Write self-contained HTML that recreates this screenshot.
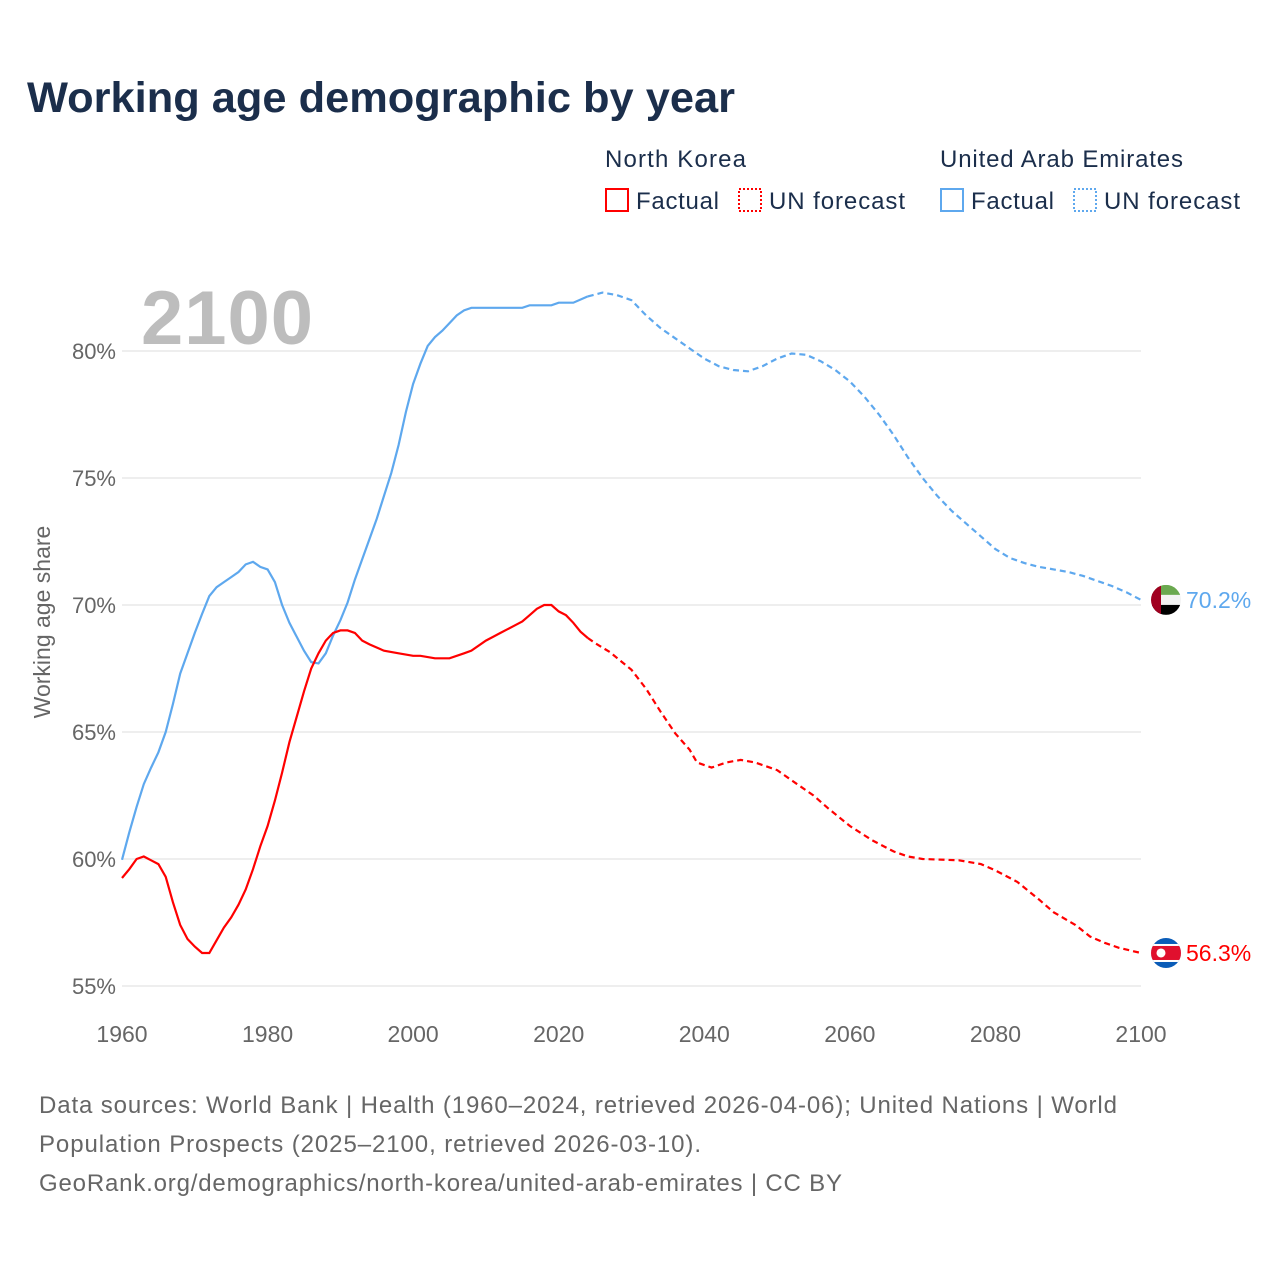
<!DOCTYPE html>
<html><head><meta charset="utf-8">
<style>
body{margin:0;background:#fff;}
svg text{font-family:"Liberation Sans",sans-serif;}
</style></head>
<body>
<svg id="chart" width="1280" height="1280" viewBox="0 0 1280 1280" xmlns="http://www.w3.org/2000/svg">
<rect width="1280" height="1280" fill="#fff"/>
<text x="27" y="112" font-size="43" font-weight="bold" fill="#1b2e4b" textLength="708" lengthAdjust="spacingAndGlyphs">Working age demographic by year</text>
<g>
<text x="605" y="167" font-size="24" fill="#1b2e4b" textLength="141">North Korea</text>
<rect x="606" y="189" width="22" height="22" fill="none" stroke="#f00" stroke-width="2"/>
<text x="636" y="209" font-size="24" fill="#1b2e4b" textLength="83">Factual</text>
<rect x="739" y="189" width="22" height="22" fill="none" stroke="#f00" stroke-width="2" stroke-dasharray="2 2"/>
<text x="769" y="209" font-size="24" fill="#1b2e4b" textLength="136">UN forecast</text>
<text x="940" y="167" font-size="24" fill="#1b2e4b" textLength="243">United Arab Emirates</text>
<rect x="941" y="189" width="22" height="22" fill="none" stroke="#5ea8ee" stroke-width="2"/>
<text x="971" y="209" font-size="24" fill="#1b2e4b" textLength="83">Factual</text>
<rect x="1074" y="189" width="22" height="22" fill="none" stroke="#5ea8ee" stroke-width="2" stroke-dasharray="2 2"/>
<text x="1104" y="209" font-size="24" fill="#1b2e4b" textLength="136">UN forecast</text>
</g>
<text x="141" y="344" font-size="76" font-weight="bold" fill="#bdbdbd" textLength="172">2100</text>
<g id="grid"></g>
<g id="yticks"></g>
<g id="xticks"></g>
<text transform="translate(50,622) rotate(-90)" text-anchor="middle" font-size="23" fill="#666">Working age share</text>
<g id="series"></g>
<g font-size="24" fill="#666">
<text x="39" y="1113" textLength="1078">Data sources: World Bank | Health (1960–2024, retrieved 2026-04-06); United Nations | World</text>
<text x="39" y="1152" textLength="662">Population Prospects (2025–2100, retrieved 2026-03-10).</text>
<text x="39" y="1191" textLength="803">GeoRank.org/demographics/north-korea/united-arab-emirates | CC BY</text>
</g>
</svg>
<script>
const yTicks=[55,60,65,70,75,80];
const xTicks=[1960,1980,2000,2020,2040,2060,2080,2100];
const uaeFactYears=[1960,1961,1962,1963,1964,1965,1966,1967,1968,1969,1970,1971,1972,1973,1974,1975,1976,1977,1978,1979,1980,1981,1982,1983,1984,1985,1986,1987,1988,1989,1990,1991,1992,1993,1994,1995,1996,1997,1998,1999,2000,2001,2002,2003,2004,2005,2006,2007,2008,2009,2012,2015,2016,2017,2019,2020,2022,2024];
const uaeFactValues=[59.97,61.05,62.05,62.95,63.6,64.2,65.0,66.1,67.3,68.1,68.9,69.65,70.35,70.7,70.9,71.1,71.3,71.6,71.7,71.5,71.4,70.9,70.0,69.3,68.75,68.2,67.75,67.7,68.1,68.8,69.4,70.1,71.0,71.8,72.6,73.4,74.3,75.2,76.3,77.6,78.7,79.5,80.2,80.55,80.8,81.1,81.4,81.6,81.7,81.7,81.7,81.7,81.8,81.8,81.8,81.9,81.9,82.15];
const uaeFcYears=[2024,2026,2028,2030,2032,2034,2036,2038,2040,2042,2044,2046,2048,2050,2052,2054,2056,2058,2060,2062,2064,2066,2068,2070,2072,2074,2076,2078,2080,2082,2084,2086,2088,2090,2092,2094,2096,2098,2100];
const uaeFcValues=[82.15,82.3,82.2,82.0,81.4,80.9,80.5,80.1,79.7,79.4,79.25,79.2,79.4,79.7,79.9,79.85,79.6,79.25,78.8,78.2,77.5,76.7,75.8,75.0,74.3,73.7,73.2,72.7,72.2,71.85,71.65,71.5,71.4,71.3,71.15,70.95,70.75,70.5,70.2];
const nkFactYears=[1960,1961,1962,1963,1964,1965,1966,1967,1968,1969,1970,1971,1972,1973,1974,1975,1976,1977,1978,1979,1980,1981,1982,1983,1984,1985,1986,1987,1988,1989,1990,1991,1992,1993,1994,1996,1998,2000,2001,2003,2005,2007,2008,2010,2012,2014,2015,2016,2017,2018,2019,2020,2021,2022,2023,2024];
const nkFactValues=[59.25,59.6,60.0,60.1,59.95,59.8,59.3,58.3,57.4,56.85,56.55,56.3,56.3,56.8,57.3,57.7,58.2,58.8,59.6,60.5,61.3,62.3,63.4,64.6,65.6,66.6,67.5,68.1,68.6,68.9,69.0,69.0,68.9,68.6,68.45,68.2,68.1,68.0,68.0,67.9,67.9,68.1,68.2,68.6,68.9,69.2,69.35,69.6,69.85,70.0,70.0,69.75,69.6,69.3,68.95,68.7];
const nkFcYears=[2024,2025,2027,2030,2032,2034,2036,2038,2039,2041,2043,2045,2047,2050,2052,2055,2057,2060,2063,2066,2068,2070,2075,2078,2080,2083,2086,2088,2091,2093,2095,2097,2100];
const nkFcValues=[68.7,68.5,68.15,67.45,66.7,65.8,64.95,64.3,63.8,63.6,63.8,63.9,63.8,63.5,63.1,62.5,62.0,61.3,60.75,60.3,60.1,60.0,59.95,59.8,59.55,59.1,58.4,57.9,57.4,56.95,56.7,56.5,56.3];

const NS='http://www.w3.org/2000/svg';
const X0=122,X1=1141,Y55=986,Y80=351;
function xs(yr){return X0+(yr-1960)*(X1-X0)/140;}
function ys(v){return Y55-(v-55)*(Y55-Y80)/25;}
function mk(tag,attrs,parent){const e=document.createElementNS(NS,tag);for(const k in attrs)e.setAttribute(k,attrs[k]);parent.appendChild(e);return e;}
const grid=document.getElementById('grid'),yt=document.getElementById('yticks'),xt=document.getElementById('xticks'),ser=document.getElementById('series');
yTicks.forEach(v=>{
  const l=mk('line',{x1:X0,x2:X1,y1:ys(v),y2:ys(v),stroke:'#e8e8e8','stroke-width':1.5},grid);
  
  
  const t=mk('text',{x:116,y:ys(v)+8,'text-anchor':'end','font-size':22,fill:'#666'},yt);
  
  
  t.textContent=v+'%';
});
xTicks.forEach(yr=>{
  const t=mk('text',{x:xs(yr),y:1042,'text-anchor':'middle','font-size':23,fill:'#666'},xt);
  
  
  t.textContent=yr;
});
function path(years,vals){return years.map((y,i)=>(i?'L':'M')+xs(y).toFixed(1)+','+ys(vals[i]).toFixed(1)).join('');}
const a=mk('path',{d:path(uaeFactYears,uaeFactValues),fill:'none',stroke:'#5ea8ee','stroke-width':2.2},ser);


const b=mk('path',{d:path(uaeFcYears,uaeFcValues),fill:'none',stroke:'#5ea8ee','stroke-width':2.2,'stroke-dasharray':'6 4'},ser);


const c=mk('path',{d:path(nkFactYears,nkFactValues),fill:'none',stroke:'#f00','stroke-width':2.2},ser);


const d=mk('path',{d:path(nkFcYears,nkFcValues),fill:'none',stroke:'#f00','stroke-width':2.2,'stroke-dasharray':'6 4'},ser);



const ue=uaeFcValues[uaeFcValues.length-1], ne=nkFcValues[nkFcValues.length-1];
const cx=1166;
const defs=mk('defs',{},ser);
const cp1=mk('clipPath',{id:'cu'},defs);mk('circle',{cx:cx,cy:ys(ue),r:15},cp1);
const cp2=mk('clipPath',{id:'cn'},defs);mk('circle',{cx:cx,cy:ys(ne),r:15},cp2);
const fu=mk('g',{'clip-path':'url(#cu)'},ser);


let cy=ys(ue);
mk('rect',{x:cx-15,y:cy-15,width:30,height:10,fill:'#6aa84f'},fu);
mk('rect',{x:cx-15,y:cy-5,width:30,height:10,fill:'#f3f3f3'},fu);
mk('rect',{x:cx-15,y:cy+5,width:30,height:10,fill:'#000'},fu);
mk('rect',{x:cx-15,y:cy-15,width:10,height:30,fill:'#a00020'},fu);
const fn=mk('g',{'clip-path':'url(#cn)'},ser);


cy=ys(ne);
mk('rect',{x:cx-15,y:cy-15,width:30,height:30,fill:'#0a5cb8'},fn);
mk('rect',{x:cx-15,y:cy-9,width:30,height:18,fill:'#fff'},fn);
mk('rect',{x:cx-15,y:cy-7,width:30,height:14,fill:'#e0102e'},fn);
mk('circle',{cx:cx-5,cy:cy,r:4.5,fill:'#fff'},fn);
const l1=mk('text',{x:1186,y:ys(ue)+8,'font-size':23,fill:'#5ea8ee'},ser);


l1.textContent=ue.toFixed(1)+'%';
const l2=mk('text',{x:1186,y:ys(ne)+8,'font-size':23,fill:'#f00'},ser);


l2.textContent=ne.toFixed(1)+'%';
</script>
</body></html>
